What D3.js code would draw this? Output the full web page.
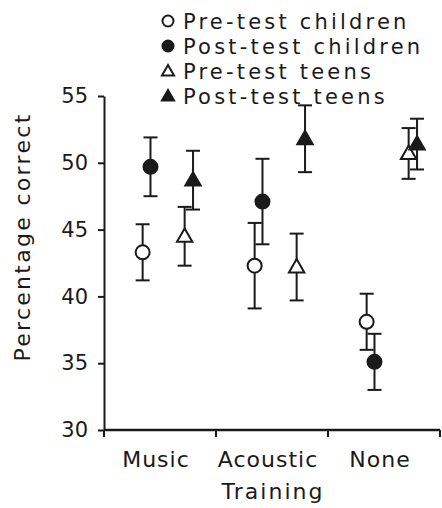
<!DOCTYPE html>
<html>
<head>
<meta charset="utf-8">
<script src="https://cdn.jsdelivr.net/npm/d3@7/dist/d3.min.js"></script>
<style>
  html, body { margin: 0; padding: 0; background: #fff; }
  svg { display: block; }
  text { font-family: "DejaVu Sans", Verdana, sans-serif; fill: #1a1a1a; }
</style>
</head>
<body>
<svg id="chart" width="442" height="508"></svg>
<script>
// Training conditions on the x axis
const categories = ["Music", "Acoustic", "None"];
// Groups plotted within each condition
const seriesNames = ["Pre-test children", "Post-test children", "Pre-test teens", "Post-test teens"];
// Mean percentage correct per condition
const preChildren  = [43.3, 42.3, 38.1];
const postChildren = [49.7, 47.1, 35.1];
const preTeens     = [44.5, 42.2, 50.7];
const postTeens    = [48.7, 51.8, 51.4];
// Error bar half-widths per condition
const preChildrenErr  = [2.1, 3.2, 2.1];
const postChildrenErr = [2.2, 3.2, 2.1];
const preTeensErr     = [2.2, 2.5, 1.9];
const postTeensErr    = [2.2, 2.5, 1.9];
// Y axis ticks
const yTicks = [30, 35, 40, 45, 50, 55];

const seriesValues = [preChildren, postChildren, preTeens, postTeens];
const seriesErrors = [preChildrenErr, postChildrenErr, preTeensErr, postTeensErr];
const seriesShape = ["circle", "circle", "triangle", "triangle"];
const seriesFilled = [false, true, false, true];

const svg = d3.select("#chart");
const ink = "#1a1a1a";
const fontFamily = "'DejaVu Sans', Verdana, sans-serif";

const x = d3.scaleBand().domain(categories).range([104, 440]).paddingInner(0).paddingOuter(0);
const offset = d3.scaleOrdinal().domain(seriesNames).range([0.345, 0.415, 0.72, 0.795]);
const y = d3.scaleLinear().domain([30, 55]).range([430, 96]);

// Y axis
const yAxis = svg.append("g")
  .attr("transform", "translate(104,0)")
  .call(d3.axisLeft(y).tickValues(yTicks).tickSize(6).tickPadding(10).tickSizeOuter(0));
yAxis.select(".domain").attr("stroke", ink).attr("stroke-width", 2);
yAxis.selectAll(".tick line").attr("stroke", ink).attr("stroke-width", 2);
yAxis.selectAll(".tick text").attr("font-size", 21).attr("fill", ink)
  .style("font-family", fontFamily);

// X axis with ticks at the condition boundaries
const xAxis = svg.append("g").attr("transform", "translate(0,430)");
xAxis.append("line").attr("x1", 104).attr("x2", 440).attr("y1", 0).attr("y2", 0)
  .attr("stroke", ink).attr("stroke-width", 2.5);
const bounds = categories.map(c => x(c)).concat([x(categories[categories.length - 1]) + x.bandwidth()]);
xAxis.selectAll("line.tk").data(bounds).join("line").attr("class", "tk")
  .attr("x1", d => d).attr("x2", d => d).attr("y1", 0).attr("y2", 7)
  .attr("stroke", ink).attr("stroke-width", 2);
xAxis.selectAll("text.cat").data(categories).join("text").attr("class", "cat")
  .attr("x", d => x(d) + x.bandwidth() / 2 - 4)
  .attr("y", 37)
  .attr("text-anchor", "middle")
  .attr("font-size", 22)
  .attr("letter-spacing", 1)
  .text(d => d);

// Axis titles
svg.append("text")
  .attr("x", 273).attr("y", 499)
  .attr("text-anchor", "middle").attr("font-size", 22)
  .attr("letter-spacing", 2)
  .text("Training");
svg.append("text")
  .attr("transform", "translate(30,237) rotate(-90)")
  .attr("text-anchor", "middle").attr("font-size", 22)
  .attr("letter-spacing", 2.3)
  .text("Percentage correct");

// Markers
function drawMarker(g, shape, filled, r) {
  if (shape === "circle") {
    g.append("circle").attr("r", r)
      .attr("fill", filled ? ink : "#fff")
      .attr("stroke", ink).attr("stroke-width", 2);
  } else {
    g.append("path").attr("d", d3.symbol().type(d3.symbolTriangle).size(r * r * 2.1)())
      .attr("transform", "translate(0,1)")
      .attr("fill", filled ? ink : "#fff")
      .attr("stroke", ink).attr("stroke-width", 2);
  }
}

const cap = 7;
seriesNames.forEach((name, si) => {
  const g = svg.append("g").attr("class", "series");
  categories.forEach((cat, ci) => {
    const cx = x(cat) + offset(name) * x.bandwidth();
    const v = seriesValues[si][ci];
    const e = seriesErrors[si][ci];
    const top = y(v + e), bot = y(v - e);
    const eb = g.append("g").attr("stroke", ink).attr("stroke-width", 2).attr("fill", "none");
    eb.append("line").attr("x1", cx).attr("x2", cx).attr("y1", top).attr("y2", bot);
    eb.append("line").attr("x1", cx - cap).attr("x2", cx + cap).attr("y1", top).attr("y2", top);
    eb.append("line").attr("x1", cx - cap).attr("x2", cx + cap).attr("y1", bot).attr("y2", bot);
    const m = g.append("g").attr("transform", `translate(${cx},${y(v)})`);
    drawMarker(m, seriesShape[si], seriesFilled[si], 7);
  });
});

// Legend
const legend = svg.append("g").attr("transform", "translate(168,21)");
seriesNames.forEach((name, i) => {
  const row = legend.append("g").attr("transform", `translate(0,${i * 25})`);
  drawMarker(row.append("g"), seriesShape[i], seriesFilled[i], 5.5);
  row.append("text").attr("x", 15).attr("y", 7.5).attr("font-size", 21)
    .attr("letter-spacing", 3.2)
    .text(name);
});
</script>
</body>
</html>
